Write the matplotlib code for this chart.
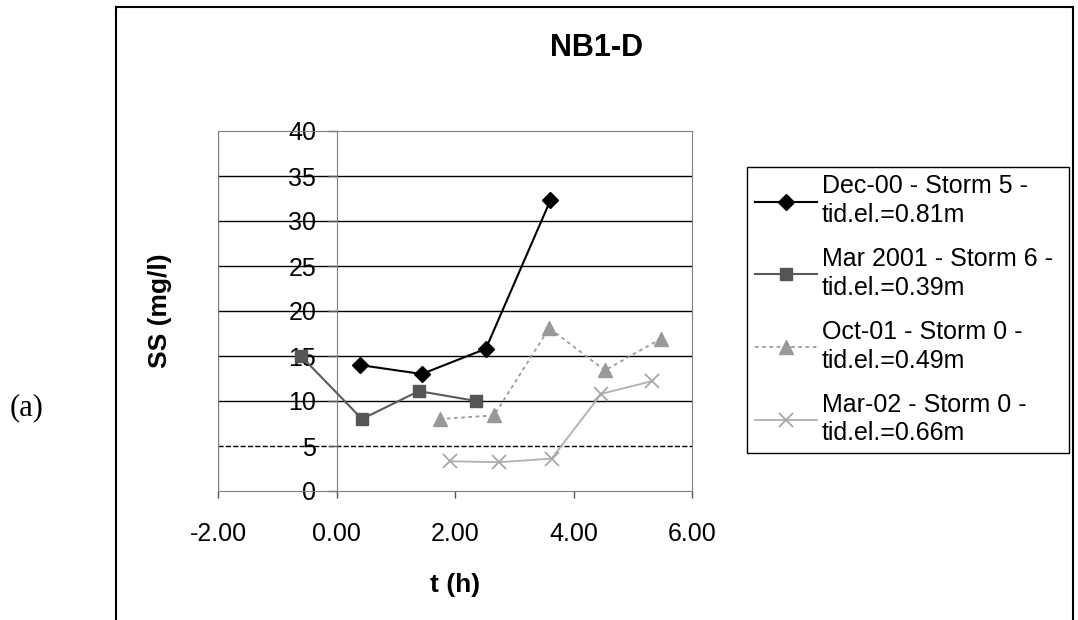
import numpy as np
import matplotlib.pyplot as plt
from matplotlib.lines import Line2D

plt.rcParams['font.family'] = ['Liberation Sans', 'DejaVu Sans']

# values
dec_t = [0.39, 1.44, 2.52, 3.61]
dec_ss = [14.0, 13.0, 15.8, 32.3]
mar01_t = [-0.60, 0.43, 1.39, 2.36]
mar01_ss = [15.0, 8.0, 11.1, 10.0]
oct_t = [1.74, 2.66, 3.59, 4.53, 5.47]
oct_ss = [8.0, 8.4, 18.1, 13.4, 16.9]
mar02_t = [1.91, 2.75, 3.63, 4.47, 5.32]
mar02_ss = [3.3, 3.2, 3.6, 10.8, 12.2]

labels = ["Dec-00 - Storm 5 -\ntid.el.=0.81m",
          "Mar 2001 - Storm 6 -\ntid.el.=0.39m",
          "Oct-01 - Storm 0 -\ntid.el.=0.49m",
          "Mar-02 - Storm 0 -\ntid.el.=0.66m"]

xticks = [-2, 0, 2, 4, 6]
yticks = [0, 5, 10, 15, 20, 25, 30, 35, 40]

W, H = 1078, 620
fig = plt.figure(figsize=(W / 100, H / 100), dpi=100)
ax = fig.add_axes([218 / W, 1 - 491 / H, 474 / W, 360 / H])

# gridlines
for y in yticks[1:-1]:
    ls = '--' if y == 5 else '-'
    ax.axhline(y, color='black', lw=1.0, ls=ls, zorder=1)

ax.plot(dec_t, dec_ss, color='black', lw=1.5, marker='D', ms=8,
        mfc='black', mec='black', label=labels[0], zorder=5)
ax.plot(mar01_t, mar01_ss, color='#5a5a5a', lw=1.5, marker='s', ms=9,
        mfc='#555555', mec='#555555', label=labels[1], zorder=4)
ax.plot(oct_t, oct_ss, color='#9a9a9a', lw=1.3, ls=(0, (2, 2)), marker='^',
        ms=10, mfc='#999999', mec='#999999', label=labels[2], zorder=3)
ax.plot(mar02_t, mar02_ss, color='#b0b0b0', lw=1.3, marker='x', ms=10,
        mew=1.3, mec='#a8a8a8', label=labels[3], zorder=3)

ax.set_xlim(-2, 6)
ax.set_ylim(0, 40)
ax.set_xticks(xticks)
ax.set_xticklabels(['%.2f' % v for v in xticks])
ax.set_yticks(yticks)

# y axis crosses at t = 0
ax.spines['left'].set_position(('data', 0))
ax.spines['left'].set_color('#808080')
ax.spines['bottom'].set_color('#808080')
ax.spines['right'].set_color('#808080')
ax.spines['top'].set_color('#808080')
ax.spines['top'].set_linestyle((0, (1, 1)))
ax.axvline(-2, color='#808080', lw=1.0, zorder=1)

ax.tick_params(axis='x', direction='out', length=5, width=1, pad=17,
               labelsize=18, color='#555555')
ax.tick_params(axis='y', direction='out', length=6.5, width=1, pad=8,
               labelsize=18, color='#555555')

ax.set_xlabel('t (h)', fontsize=19, fontweight='bold', va='center')
ax.xaxis.set_label_coords(0.5, (491 - 585) / 360)
ax.set_ylabel('SS (mg/l)', fontsize=19, fontweight='bold', va='center')
ax.yaxis.set_label_coords((160 - 218) / 474, 0.5)

fig.text(597 / W, 1 - 48 / H, 'NB1-D', fontsize=22, fontweight='bold',
         ha='center', va='center')
fig.text(27 / W, 1 - 408 / H, '(a)', fontsize=22, family='Liberation Serif',
         ha='center', va='center')

leg = ax.legend(loc='upper left',
                bbox_to_anchor=(747 / W, 1 - 167 / H, 322 / W, 0),
                bbox_transform=fig.transFigure, mode='expand', fontsize=18,
                fancybox=False, edgecolor='black', framealpha=1,
                borderpad=0.3, labelspacing=0.8, handlelength=2.5,
                handletextpad=0.2, borderaxespad=0)
leg.get_frame().set_linewidth(1.0)
for t in leg.get_texts():
    t.set_linespacing(1.25)

# outer chart frame
x0, x1, y1 = 116 / W, 1073 / W, 1 - 7 / H
fig.add_artist(Line2D([x0, x0], [-0.01, y1], transform=fig.transFigure,
                      color='black', lw=1.5))
fig.add_artist(Line2D([x0, x1], [y1, y1], transform=fig.transFigure,
                      color='black', lw=1.5))
fig.add_artist(Line2D([x1, x1], [-0.01, y1], transform=fig.transFigure,
                      color='black', lw=1.5))

fig.savefig('out.png', dpi=100)
